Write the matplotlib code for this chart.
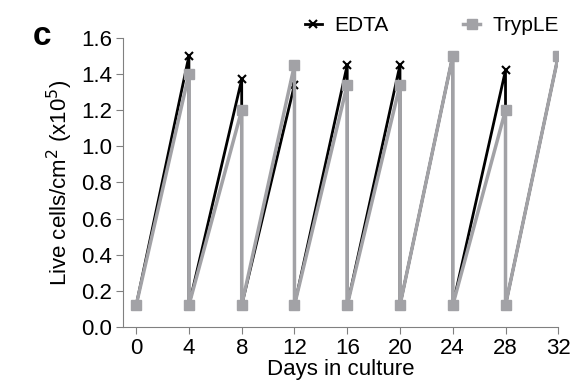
import matplotlib.pyplot as plt

plt.rcParams['font.family'] = ['Liberation Sans', 'DejaVu Sans']

# passage days (each day appears twice: before and after splitting)
days = [0, 4, 4, 8, 8, 12, 12, 16, 16, 20, 20, 24, 24, 28, 28, 32]
edta = [0.12, 1.50, 0.12, 1.37, 0.12, 1.34, 0.12, 1.45, 0.12, 1.45, 0.12, 1.50, 0.12, 1.42, 0.12, 1.50]
tryple = [0.12, 1.40, 0.12, 1.20, 0.12, 1.45, 0.12, 1.34, 0.12, 1.34, 0.12, 1.50, 0.12, 1.20, 0.12, 1.50]
xticks = [0, 4, 8, 12, 16, 20, 24, 28, 32]
yticks = [0.0, 0.2, 0.4, 0.6, 0.8, 1.0, 1.2, 1.4, 1.6]

fig = plt.figure(figsize=(5.72, 3.86), dpi=100)
ax = fig.add_axes([0.215, 0.153, 0.761, 0.749])

gray = '#a2a2a6'
ax.plot(days, edta, color='black', lw=2, marker='x', ms=6, mew=1.5, label='EDTA', zorder=2)
ax.plot(days, tryple, color=gray, lw=2.5, marker='s', ms=6.5, mec=gray, label='TrypLE', zorder=3)

ax.set_xlim(-1, 32)
ax.set_ylim(0, 1.6)
ax.set_xticks(xticks)
ax.set_yticks(yticks)
ax.set_yticklabels([f'{v:.1f}' for v in yticks])
ax.tick_params(labelsize=16, length=5, color='#808080', direction='out', pad=3)
for s in ['top', 'right']:
    ax.spines[s].set_visible(False)
for s in ['left', 'bottom']:
    ax.spines[s].set_color('#808080')

ax.set_xlabel('Days in culture', fontsize=16, labelpad=0)
ax.set_ylabel('Live cells/cm$^2$ (x10$^5$)', fontsize=16, labelpad=4)

ax.legend(loc='lower center', bbox_to_anchor=(0.71, 0.965), ncol=2, frameon=False,
          fontsize=15, handlelength=0.8, handletextpad=0.6, columnspacing=3.6,
          borderaxespad=0.2)

fig.text(0.057, 0.883, 'c', fontsize=24, fontweight='bold')

fig.savefig('out.png', dpi=100)
